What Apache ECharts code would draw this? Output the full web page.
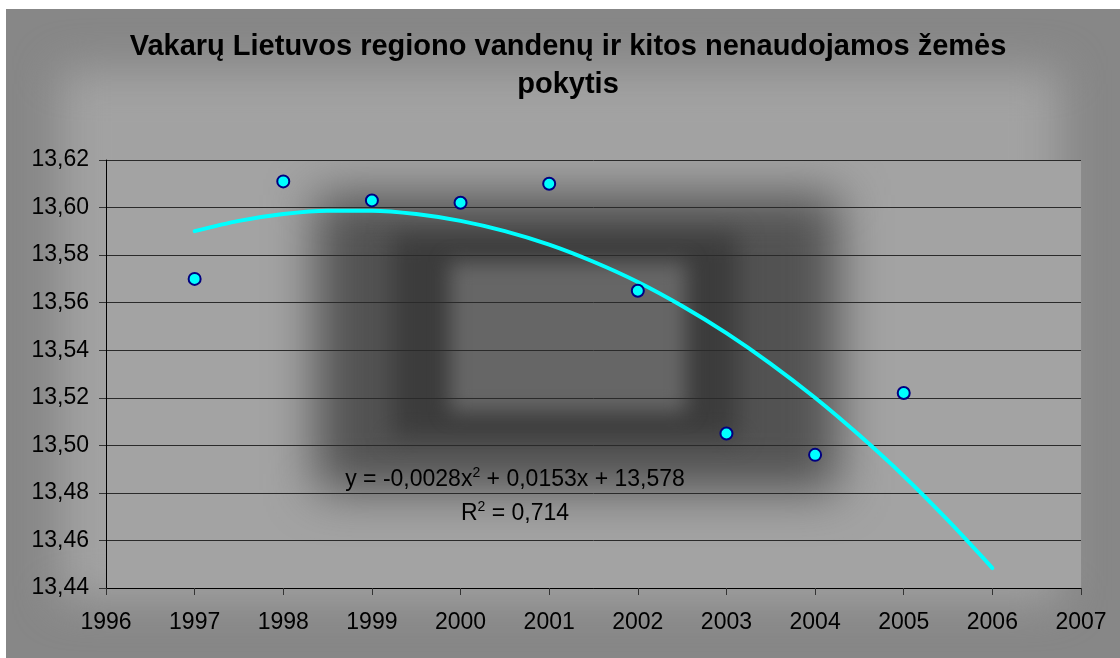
<!DOCTYPE html>
<html>
<head>
<meta charset="utf-8">
<script src="https://cdn.jsdelivr.net/npm/echarts@6/dist/echarts.min.js"></script>
<style>
html,body{margin:0;padding:0;background:#fff;}
#c{width:1120px;height:658px;}
</style>
</head>
<body>
<div id="c"></div>
<script>
// ---- data ----
var titleText = 'Vakarų Lietuvos regiono vandenų ir kitos nenaudojamos žemės\npokytis';
var years = [1997, 1998, 1999, 2000, 2001, 2002, 2003, 2004, 2005];
var values = [13.570, 13.611, 13.603, 13.602, 13.610, 13.565, 13.505, 13.496, 13.522];
// trend line
var trendYears = [1997, 1997.5, 1998, 1998.5, 1999, 1999.5, 2000, 2000.5, 2001, 2001.5,
                  2002, 2002.5, 2003, 2003.5, 2004, 2004.5, 2005, 2005.5, 2006];
var trendValues = [13.5901, 13.5944, 13.5973, 13.5987, 13.5987, 13.5973, 13.5944, 13.5901, 13.5844, 13.5772,
                   13.5687, 13.5586, 13.5472, 13.5343, 13.5200, 13.5042, 13.4871, 13.4684, 13.4484];
var xMin = 1996, xMax = 2007, xStep = 1;
var yMin = 13.44, yMax = 13.62, yStep = 0.02;
var eqLine1 = ['y = -0,0028x', '2', ' + 0,0153x + 13,578'];
var eqLine2 = ['R', '2', ' = 0,714'];

var FONT = '"Liberation Sans", Arial, Helvetica, sans-serif';
var W = 1120, H = 658;

// ---- decorative background (gradient fills) ----
function makeBackground() {
  var cv = document.createElement('canvas');
  cv.width = W; cv.height = H;
  var ctx = cv.getContext('2d');
  ctx.fillStyle = '#ffffff';
  ctx.fillRect(0, 0, W, H);
  ctx.fillStyle = '#878787';
  ctx.fillRect(6, 9, W - 6, H - 9);
  ctx.save();
  ctx.beginPath(); ctx.rect(6, 9, W - 6, H - 9); ctx.clip();
  ctx.filter = 'blur(22px)';
  ctx.fillStyle = '#a2a2a2';
  ctx.fillRect(60, 70, 1000, 530);
  ctx.restore();
  // plot area
  var px = 106, py = 160, pw = 975, ph = 428;
  ctx.fillStyle = '#a3a3a3';
  ctx.fillRect(px, py, pw, ph);
  ctx.save();
  ctx.beginPath(); ctx.rect(px, py, pw, ph); ctx.clip();
  ctx.filter = 'blur(24px)';
  ctx.fillStyle = '#525252';
  ctx.fillRect(316, 195, 522, 295);
  ctx.filter = 'blur(12px)';
  ctx.fillStyle = '#3c3c3c';
  ctx.fillRect(392, 234, 346, 204);
  ctx.filter = 'blur(10px)';
  ctx.fillStyle = '#666666';
  ctx.fillRect(450, 262, 236, 150);
  ctx.restore();
  return cv;
}

var chart = echarts.init(document.getElementById('c'), null, {renderer: 'canvas'});

var scatterData = years.map(function (y, i) { return [y, values[i]]; });
var trendData = trendYears.map(function (y, i) { return [y, trendValues[i]]; });

function richEq(parts) {
  return '{n|' + parts[0] + '}{s|' + parts[1] + '}{n|' + parts[2] + '}';
}
var eqRich = {
  n: {fontFamily: FONT, fontSize: 23, fill: '#000', lineHeight: 28},
  s: {fontFamily: FONT, fontSize: 14, fill: '#000', lineHeight: 28, verticalAlign: 'top'}
};

var option = {
  backgroundColor: '#ffffff',
  animation: false,
  graphic: [
    {type: 'image', z: -10, silent: true, style: {image: makeBackground(), x: 0, y: 0, width: W, height: H}},
    {type: 'text', z: 10, silent: true, x: 568, y: 28,
      style: {
        text: titleText, align: 'center', verticalAlign: 'top',
        font: 'bold 29px ' + FONT, fill: '#000', lineHeight: 38
      }},
    {type: 'text', z: 10, silent: true, x: 515, y: 480,
      style: {text: richEq(eqLine1), align: 'center', verticalAlign: 'middle', rich: eqRich}},
    {type: 'text', z: 10, silent: true, x: 515, y: 514,
      style: {text: richEq(eqLine2), align: 'center', verticalAlign: 'middle', rich: eqRich}}
  ],
  grid: {left: 106, right: 39, top: 160, bottom: 70, containLabel: false},
  xAxis: {
    type: 'value', min: xMin, max: xMax, interval: xStep,
    axisLine: {show: true, onZero: false, lineStyle: {color: '#000', width: 1}},
    axisTick: {show: true, inside: false, length: 7, lineStyle: {color: '#333'}},
    splitLine: {show: false},
    axisLabel: {
      margin: 23, color: '#000', fontFamily: FONT, fontSize: 23,
      formatter: function (v) { return String(v); }
    }
  },
  yAxis: {
    type: 'value', min: yMin, max: yMax, interval: yStep,
    axisLine: {show: true, lineStyle: {color: '#000', width: 1}},
    axisTick: {show: true, inside: false, length: 7, lineStyle: {color: '#333'}},
    splitLine: {show: true, lineStyle: {color: '#2a2a2a', width: 1}},
    axisLabel: {
      margin: 17, color: '#000', fontFamily: FONT, fontSize: 23,
      formatter: function (v) { return v.toFixed(2).replace('.', ','); }
    }
  },
  series: [
    {
      type: 'line', data: trendData, smooth: 0.3, showSymbol: false, symbol: 'none',
      lineStyle: {color: '#00ffff', width: 4, cap: 'round'}, z: 3, silent: true
    },
    {
      type: 'scatter', data: scatterData, symbol: 'circle', symbolSize: 12,
      itemStyle: {color: '#00ffff', borderColor: '#000080', borderWidth: 2, opacity: 1}, z: 4
    }
  ]
};
chart.setOption(option);
</script>
</body>
</html>
